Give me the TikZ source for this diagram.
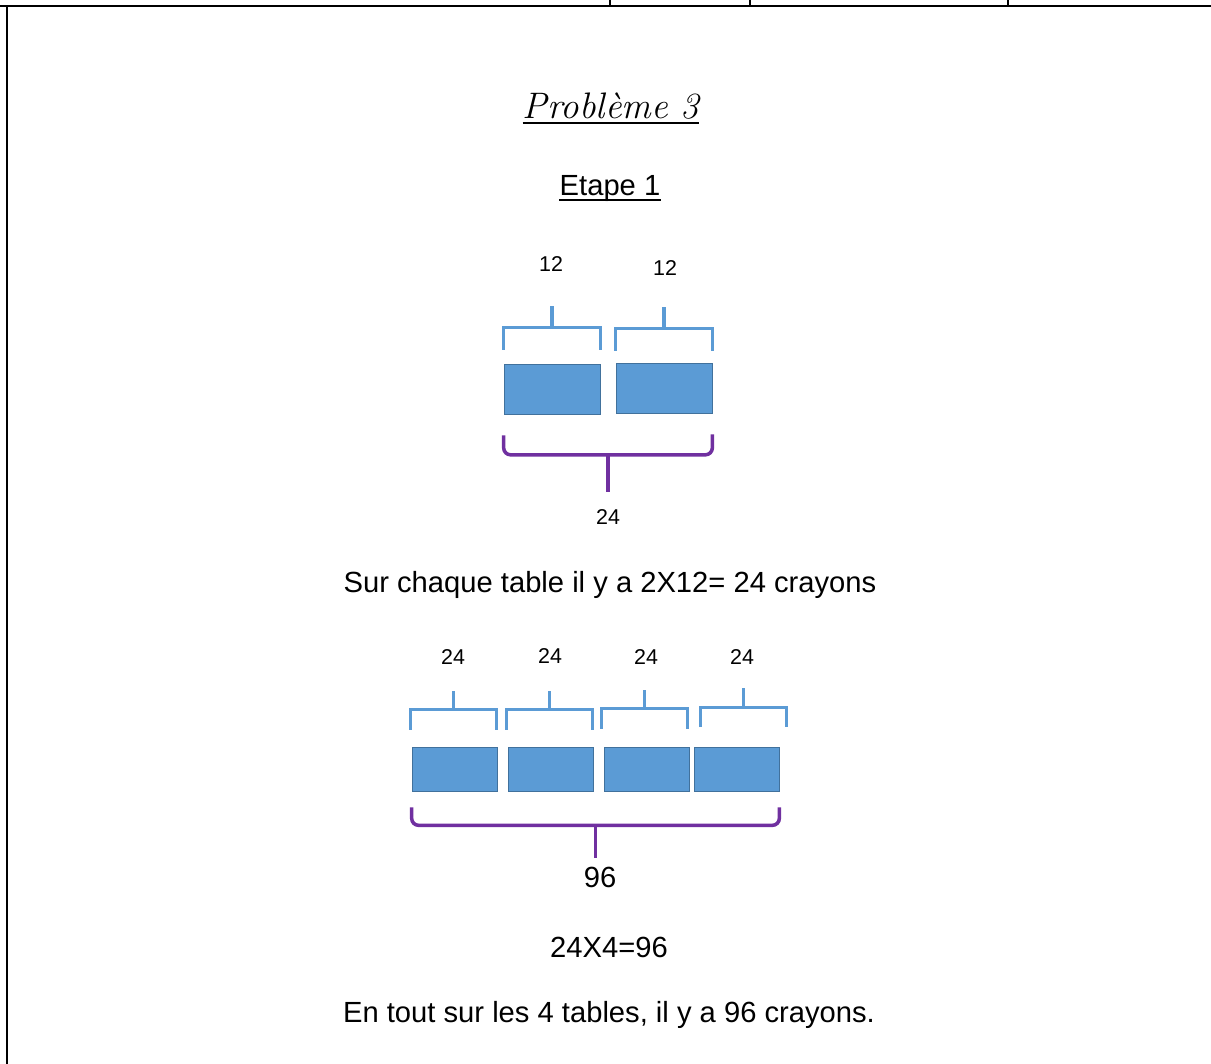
\documentclass[tikz,border=0pt]{standalone}
\usepackage{fontspec}
\setmainfont{Liberation Sans}
\newfontfamily\titlefont{Latin Modern Roman}
\usepackage{tikz}
\usetikzlibrary{calc}
\definecolor{myblue}{HTML}{5B9BD5}
\definecolor{myblueborder}{HTML}{41719C}
\definecolor{mypurple}{HTML}{7030A0}
\tikzset{
tablebox/.style={
draw=myblueborder,
fill=myblue,
line width=0.4pt,
inner sep=0pt
},
bigtable/.style={
tablebox,
minimum width=1.92cm,
minimum height=1.0cm
},
smalltable/.style={
tablebox,
minimum width=1.7cm,
minimum height=0.88cm
},
bracket/.style={
draw=myblue,
line width=1.8pt
},
brace/.style={
draw=mypurple,
line width=2pt,
rounded corners=4pt
},
labelsmall/.style={
font=\fontsize{12.2}{14}\selectfont,
inner sep=0pt
},
labeltext/.style={
font=\fontsize{16.6}{20}\selectfont,
inner sep=0pt
},
frame/.style={
draw=black,
line width=1.1pt
}
}

\begin{document}
\begin{tikzpicture}[x=0.02cm,y=-0.02cm]
\useasboundingbox (0,0) rectangle (1211,1064);

% page frame
\draw[frame] (0,6) -- (1211,6);
\draw[frame] (7,6) -- (7,1064);
\foreach \x in {610,750,1008} { \draw[frame, line width=0.6pt] (\x,0) -- (\x,6); }

% headings
\node[inner sep=0pt, font=\titlefont\itshape\fontsize{21}{24}\selectfont] (title) at (611,106) {Problème 3};
\draw[line width=1.1pt] ($(title.base west)+(0,5)$) -- ($(title.base east)+(0,5)$);
\node[labeltext] (etape) at (610,188) {Etape 1};
\draw[line width=1.1pt] ($(etape.base west)+(0,5)$) -- ($(etape.base east)+(0,5)$);

% step 1: two tables
\node[bigtable] (a1) at (552,389) {};
\node[bigtable] (a2) at (664,388) {};

\foreach \n/\dx/\dy in {a1/0/0, a2/0/2} {
  \draw[bracket] ($(\n.north west)+(\dx,-14+\dy)$) |- ($(\n.north east)+(\dx,-36+\dy)$) -- ($(\n.north east)+(\dx,-14+\dy)$);
  \draw[bracket] ($(\n.north)+(\dx,-36+\dy)$) -- ++(0,-22);
}
\node[labelsmall] (la1) at (551,264) {12};
\node[labelsmall] (la2) at (665,268) {12};

\coordinate (ma) at ($(a1.south west)!0.5!(a2.south east)+(0,41)$);
\draw[brace] ($(a1.south west)+(0,21)$) |- (ma) -| ($(a2.south east)+(0,21)$);
\draw[brace] (ma) -- ++(0,37);
\node[labelsmall] (sa) at (608,517) {24};

\node[labeltext] (txt1) at (610,585) {Sur chaque table il y a 2X12= 24 crayons};

% step 2: four tables
\node[smalltable] (b1) at (454.5,769) {};
\node[smalltable] (b2) at (550.5,769) {};
\node[smalltable] (b3) at (646.5,769.5) {};
\node[smalltable] (b4) at (736.5,769) {};

\foreach \n/\dx/\dy in {b1/-1/0, b2/-1/0, b3/-2/-1.5, b4/7/-2.5} {
  \draw[bracket] ($(\n.north west)+(\dx,-17+\dy)$) |- ($(\n.north east)+(\dx,-37+\dy)$) -- ($(\n.north east)+(\dx,-17+\dy)$);
  \draw[bracket] ($(\n.north)+(\dx,-37+\dy)$) -- ++(0,-19);
}
\node[labelsmall] (lb1) at (453,657) {24};
\node[labelsmall] (lb2) at (550,656) {24};
\node[labelsmall] (lb3) at (646,657) {24};
\node[labelsmall] (lb4) at (742,657) {24};

\coordinate (mb) at ($(b1.south west)!0.5!(b4.south east)+(0,34)$);
\draw[brace] ($(b1.south west)+(0,16)$) |- (mb) -| ($(b4.south east)+(0,16)$);
\draw[brace] (mb) -- ++(0,33);
\node[labeltext] (sb) at (600,877) {96};

\node[labeltext] (txt2) at (609,947) {24X4=96};
\node[labeltext] (txt3) at (609,1015) {En tout sur les 4 tables, il y a 96 crayons.};

\end{tikzpicture}
\end{document}
